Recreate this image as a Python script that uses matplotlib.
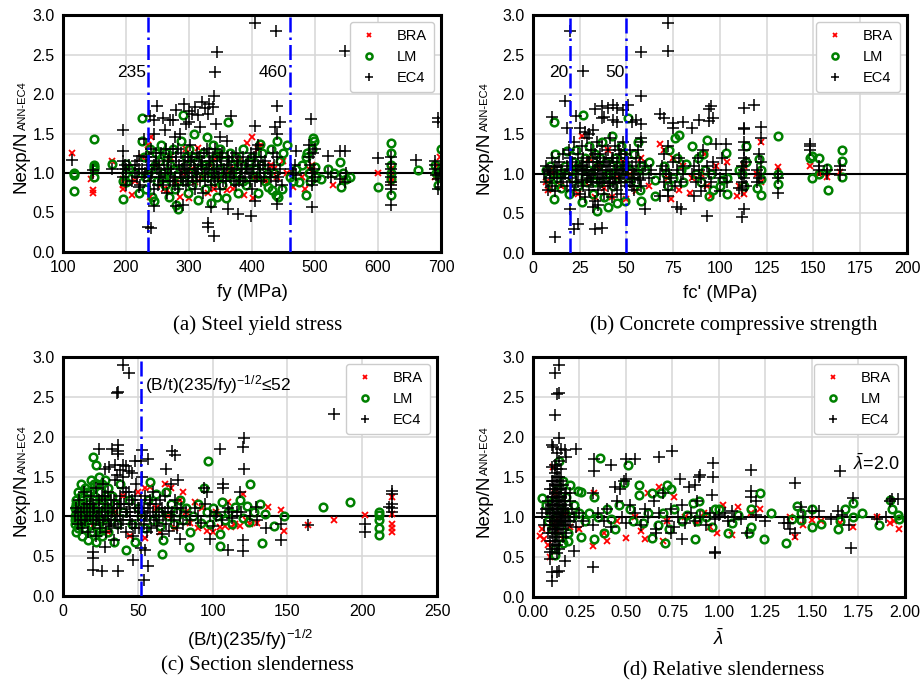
import numpy as np
import matplotlib
matplotlib.use("Agg")
import matplotlib.pyplot as plt

plt.rcParams["font.family"] = ["Liberation Sans", "DejaVu Sans"]
plt.rcParams["mathtext.fontset"] = "custom"
plt.rcParams["mathtext.rm"] = "Liberation Sans"
plt.rcParams["mathtext.it"] = "Liberation Sans:italic"

# ---- data: (x, Nexp/N ratio) ----
# (a) steel yield stress fy
bra_fy = [(115,1.25),(148,0.78),(148,0.75),(145,0.93),(178,1.15),(195,0.8),(195,0.85),(195,0.92),(210,0.72),(215,0.9),
          (225,1.2),(235,1.35),(240,1.45),(238,0.7),(250,1.1),(255,0.85),(260,0.8),(265,0.78),(270,1.2),(280,0.9),
          (285,0.7),(290,1.0),(295,1.3),(300,0.68),(305,1.05),(310,0.88),(315,1.32),(320,0.95),(330,0.75),(335,1.1),
          (340,0.8),(345,1.2),(350,0.92),(360,0.78),(365,1.05),(370,0.8),(380,1.15),(388,0.72),(392,1.38),(400,1.45),
          (402,0.68),(405,0.95),(410,1.3),(415,1.35),(420,0.9),(425,0.88),(430,1.1),(435,1.05),(440,0.95),(450,1.15),
          (455,1.0),(465,0.82),(480,0.95),(484,0.8),(490,1.05),(495,1.1),(528,0.85),(545,0.9),(600,1.0),(620,0.88),
          (620,0.95),(620,1.05),(690,0.95),(695,1.1),(698,1.2)]
lm_fy = [(117,1.0),(117,0.98),(117,0.77),(150,1.43),(150,1.1),(150,1.08),(150,1.05),(150,0.95),(178,1.12),(195,0.67),
         (195,0.9),(200,1.12),(200,1.0),(200,0.88),(205,1.05),(215,1.0),(220,0.75),(225,1.7),(225,1.4),(228,1.2),
         (230,0.95),(232,0.8),(238,1.3),(240,1.05),(242,0.7),(245,0.65),(248,1.25),(250,0.9),(252,1.15),(255,1.35),
         (258,1.0),(262,0.85),(265,1.2),(268,0.7),(270,1.1),(272,0.95),(275,1.3),(278,0.8),(280,0.6),(282,0.55),
         (285,1.05),(288,1.4),(290,1.74),(292,0.9),(295,1.2),(298,0.75),(300,1.3),(302,1.0),(305,0.85),(308,1.5),
         (312,1.15),(315,0.66),(318,1.05),(322,1.25),(325,0.8),(328,1.45),(330,0.95),(332,1.1),(335,0.62),(338,1.35),
         (340,0.9),(342,1.2),(345,0.7),(348,1.05),(350,1.3),(352,0.85),(355,1.15),(358,0.68),(362,1.64),(365,1.25),
         (368,1.0),(372,0.9),(375,1.2),(378,0.75),(382,1.1),(385,1.3),(390,0.85),(395,1.05),(400,1.2),(405,0.95),
         (410,0.75),(412,1.37),(415,1.1),(420,0.9),(425,0.82),(430,1.3),(432,0.78),(435,1.0),(438,0.72),(440,1.4),
         (442,0.7),(445,1.15),(448,0.8),(450,1.25),(455,1.35),(460,0.95),(465,0.9),(470,1.05),(475,0.88),(480,1.1),
         (485,0.72),(485,1.2),(488,1.25),(490,1.0),(492,0.9),(495,1.3),(497,1.44),(498,1.4),(500,1.08),(502,0.95),
         (510,0.92),(520,1.05),(530,1.0),(540,1.14),(542,0.82),(545,1.0),(550,0.92),(555,0.95),(600,0.82),(620,1.38),
         (620,1.25),(620,1.1),(620,1.0),(620,0.92),(620,0.72),(663,1.04),(690,1.1),(692,1.0),(695,0.85),(698,0.95),
         (700,1.3),(700,1.05),
         (235,1.0),(246,1.1),(257,0.95),(263,1.25),(274,1.05),(284,0.9),(296,1.1),(306,1.2),(316,0.95),(326,1.1),
         (336,1.0),(346,1.25),(356,0.95),(366,1.1),(376,1.0),(386,0.9),(396,1.15),(406,1.05),(416,1.25),(426,1.0)]
ec4_fy = [(405,2.9),(438,2.8),(345,2.53),(548,2.55),(342,2.28),(340,1.98),(440,1.85),(250,1.85),(292,1.87),(320,1.9),
          (332,1.87),(310,1.83),(280,1.8),(300,1.78),(325,1.82),(338,1.83),(305,1.75),(330,1.75),(315,1.73),(367,1.72),
          (258,1.7),(270,1.67),(275,1.67),(238,1.72),(245,1.67),(493,1.68),(695,1.7),(695,1.65),(195,1.55),(405,1.6),
          (437,1.58),(445,1.65),(440,1.5),(343,1.62),(295,1.62),(300,1.65),(318,1.58),(285,1.5),(245,1.5),(228,1.43),
          (262,1.55),(278,1.45),(350,1.45),(360,1.4),(235,0.32),(240,0.3),(330,0.37),(330,0.32),(340,0.2),(398,0.45),
          (378,0.48),(362,0.55),(335,0.57),(245,0.58),(440,0.61),(495,0.57),(620,0.6),(280,0.58),(290,0.6),(405,0.65),
          (115,1.17),(148,1.04),(148,1.0),(178,1.05),(195,1.28),(220,1.22),(520,1.22),(548,1.28),(540,1.28),(600,1.19),
          (660,1.16),(620,1.2),(620,1.12),(620,0.8),(620,0.85),(690,1.15),(690,1.1),(470,1.28),(490,1.35),(500,1.3),
          (195,1.15),(195,1.05),(195,0.95),(198,1.1),(200,0.85),(200,1.0),(215,1.1),(218,0.95),(220,0.82),(220,1.05),
          (462,1.05),(465,1.0),(470,0.98),(468,1.1),(490,1.2),(492,1.1),(495,1.0),(495,0.9),(498,1.05),(500,0.95),
          (497,1.25),(495,0.85),(520,1.0),(525,0.95),(540,0.92),(550,1.0),(548,0.88),(620,1.0),(620,1.05),(620,0.95),
          (620,0.88),(690,1.05),(692,0.98),(695,0.92),(698,1.0),(700,0.82),(695,0.8),
          (200,1.05),(205,1.1),(210,0.9),(215,1.0),(218,1.15),(222,0.85),(225,1.05),(228,0.95),(232,1.2),(235,1.1),
          (238,0.9),(240,1.3),(242,1.0),(245,0.8),(248,1.15),(250,1.05),(252,0.95),(255,1.25),(258,0.85),(260,1.1),
          (262,1.0),(265,0.75),(268,1.2),(270,0.9),(272,1.05),(275,1.3),(278,0.95),(280,1.15),(282,0.8),(285,1.0),
          (288,1.25),(290,0.9),(292,1.1),(295,0.85),(298,1.2),(300,1.0),(302,1.35),(305,0.95),(308,1.1),(310,0.8),
          (312,1.25),(315,1.05),(318,0.9),(320,1.15),(322,0.75),(325,1.0),(328,1.3),(330,0.95),(332,1.1),(335,0.85),
          (338,1.2),(340,1.05),(342,0.9),(345,1.15),(348,1.0),(350,0.8),(352,1.25),(355,1.05),(358,0.9),(360,1.1),
          (365,0.95),(368,1.2),(372,1.0),(375,0.85),(378,1.15),(382,1.05),(385,0.9),(390,1.1),(395,1.0),(398,1.25),
          (400,0.8),(402,1.05),(405,1.15),(408,0.95),(410,1.35),(412,1.0),(415,0.9),(418,1.1),(425,1.05),(430,0.95),
          (435,1.1),(440,1.2),(442,0.95),(445,1.05),(448,0.85),
          (230,1.0),(236,1.2),(244,1.1),(251,0.85),(256,1.0),(263,1.3),(267,1.05),(274,0.9),(279,1.2),(284,1.1),
          (287,0.95),(293,1.0),(297,1.05),(303,1.15),(307,0.9),(311,1.0),(316,1.2),(321,1.05),(326,0.9),(331,1.25),
          (336,1.0),(341,1.3),(346,0.95),(351,1.1),(356,1.0),(362,1.2),(366,1.05),(371,0.9),(376,1.1),(381,0.95),
          (386,1.2),(392,1.05),(397,0.9),(403,1.2),(407,1.3),(413,1.05),(420,1.15),(428,1.0),(433,1.25),(438,0.9),
          (233,1.05),(239,0.95),(247,1.25),(253,1.1),(259,0.9),(266,1.15),(271,1.0),(277,0.85),(283,1.3),(289,1.05),
          (294,1.15),(299,0.9),(304,1.2),(309,1.05),(313,0.95),(319,1.1),(324,1.25),(329,1.05),(334,1.15),(339,0.95),
          (344,1.05),(349,1.2),(354,0.9),(359,1.0),(364,1.15),(369,1.0),(374,1.25),(379,0.9),(384,1.05),(389,0.95),
          (394,1.15),(399,1.0),(404,0.9),(409,1.1),(414,1.2),(419,0.95)]

# (b) concrete compressive strength fc'
bra_fc = [(7,0.9),(8,0.8),(9,1.05),(12,1.0),(15,0.85),(20,1.1),(24,0.75),(26,1.47),(28,0.9),(30,1.2),(33,0.7),
          (35,1.1),(38,0.82),(40,1.3),(42,0.7),(45,0.95),(48,1.15),(50,0.68),(52,1.0),(55,0.78),(58,1.2),(62,0.85),
          (68,1.38),(70,1.3),(72,0.95),(74,0.68),(75,1.2),(78,0.8),(80,1.1),(84,0.76),(85,0.95),(90,1.0),(92,1.25),
          (93,0.85),(95,0.72),(98,1.1),(104,1.15),(109,0.72),(110,0.85),(113,0.75),(113,1.1),(120,1.0),(122,1.4),
          (122,0.9),(131,1.08),(148,1.1),(153,1.0),(157,0.96),(164,1.02)]
lm_fc = [(7,1.05),(8,0.95),(9,1.1),(10,0.85),(11,1.65),(11,0.68),(12,1.25),(13,0.95),(14,1.0),(15,0.82),(17,1.1),
         (18,1.28),(19,0.75),(21,0.95),(22,1.15),(23,1.3),(24,0.85),(25,1.05),(26,0.64),(27,1.74),(28,1.2),(29,0.9),
         (30,1.35),(31,1.0),(32,0.75),(33,1.25),(34,0.53),(35,1.1),(36,0.9),(37,1.4),(38,0.7),(39,1.15),(40,0.58),
         (41,1.0),(42,1.47),(43,0.85),(44,1.2),(45,0.63),(46,1.05),(47,1.35),(48,0.95),(49,0.66),(50,1.1),(51,1.7),
         (52,0.9),(54,1.25),(55,1.0),(56,1.4),(57,0.8),(58,0.66),(60,1.05),(62,1.15),(65,0.92),(65,0.72),(70,1.1),
         (71,1.0),(72,0.85),(73,1.3),(75,0.95),(76,1.45),(77,1.2),(78,1.49),(79,1.05),(80,0.9),(82,1.12),(85,1.35),
         (87,1.0),(88,1.2),(90,0.9),(91,1.25),(92,1.05),(93,1.42),(94,0.72),(95,1.0),(96,0.8),(100,0.85),(101,0.92),
         (103,1.26),(104,0.95),(104,0.75),(110,1.05),(112,1.0),(113,0.85),(114,1.35),(114,1.15),(120,0.82),(121,1.18),
         (122,1.05),(122,0.93),(122,0.73),(131,1.48),(131,0.87),(131,1.0),(148,1.2),(149,1.22),(149,0.95),(153,1.2),
         (153,1.0),(157,1.07),(158,0.8),(165,1.3),(165,1.16),(165,0.96),
         (15,1.0),(20,1.05),(24,1.1),(28,0.95),(30,1.05),(33,0.9),(36,1.2),(39,1.0),(42,0.92),(45,1.1),(48,1.25),
         (52,1.05),(55,0.9),(58,1.1)]
ec4_fc = [(72,2.9),(72,2.55),(58,2.53),(20,2.8),(27,2.29),(58,1.98),(17,1.92),(10,1.72),(18,1.58),(23,1.73),(33,1.82),
          (37,1.85),(40,1.83),(43,1.86),(45,1.83),(48,1.8),(51,1.87),(37,1.7),(38,1.72),(43,1.68),(45,1.65),(53,1.65),
          (55,1.68),(58,1.62),(68,1.75),(70,1.7),(75,1.64),(75,1.58),(80,1.65),(85,1.57),(89,1.68),(94,1.66),(94,1.82),
          (95,1.85),(96,1.7),(113,1.83),(113,1.58),(113,1.56),(118,1.86),(122,1.59),(122,1.45),(30,1.5),(32,1.55),
          (28,1.52),(25,1.57),(58,1.45),(98,1.37),(103,1.37),(12,0.2),(22,0.3),(24,0.36),(33,0.3),(37,0.31),(20,0.56),
          (35,0.6),(32,0.58),(60,0.56),(77,0.58),(79,0.55),(93,0.47),(112,0.45),(113,0.55),(131,0.76),(148,1.38),
          (148,1.35),(148,1.3),(153,1.1),(153,1.05),(157,1.05),(157,1.0),(164,1.1),(164,1.05),(164,0.98),(131,1.0),
          (131,0.95),(68,0.72),(72,0.72),(86,0.72),(90,0.78),(100,0.78),(110,0.82),
          (6,1.0),(7,0.9),(7,1.1),(8,0.8),(8,1.05),(9,0.95),(10,1.2),(10,0.85),(11,1.0),(12,1.1),(12,0.78),(13,0.95),
          (14,1.15),(15,1.05),(15,0.9),(16,1.25),(17,1.0),(18,0.85),(18,1.1),(19,1.3),(20,0.95),(20,1.2),(21,1.05),
          (22,0.8),(22,1.4),(23,1.0),(24,0.9),(24,1.25),(25,1.1),(25,0.75),(26,1.35),(26,1.0),(27,0.85),(27,1.2),
          (28,1.05),(28,0.7),(29,1.45),(29,0.95),(30,1.15),(30,0.8),(31,1.3),(31,1.0),(32,0.9),(32,1.2),(33,1.05),
          (33,0.65),(34,1.4),(34,0.95),(35,1.1),(35,0.8),(36,1.25),(36,1.0),(37,0.9),(37,1.35),(38,1.15),(38,0.75),
          (39,1.05),(39,0.95),(40,1.3),(40,0.85),(41,1.1),(41,1.45),(42,1.0),(42,0.7),(43,1.2),(43,0.9),(44,1.05),
          (44,1.35),(45,0.8),(45,1.15),(46,1.0),(46,0.95),(47,1.25),(47,0.75),(48,1.1),(48,1.4),(49,0.9),(49,1.05),
          (50,1.2),(50,0.85),(51,1.0),(52,1.3),(52,0.9),(53,1.1),(54,0.8),(55,1.05),(55,1.2),(56,0.95),(57,1.15),
          (58,0.85),(58,1.4),(59,1.0),(60,1.1),(62,0.95),(63,1.05),
          (21,1.15),(23,0.9),(26,1.1),(29,1.05),(31,0.9),(34,1.15),(36,0.88),(39,1.2),(41,0.95),(44,0.88),(47,1.05),
          (49,1.25),(53,0.95),(56,1.3),
          (9,1.02),(13,1.08),(16,0.95),(19,1.0),(21,0.9),(23,1.1),(24,1.05),(26,0.92),(27,1.05),(29,1.15),(30,0.98),
          (32,1.05),(33,1.25),(35,1.0),(36,1.15),(37,1.05),(38,0.95),(40,1.1),(41,0.88),(42,1.2),(44,0.95),(45,1.05),
          (46,1.3),(47,0.9),(48,1.0),(50,1.05),(51,1.15),(53,0.85),(54,1.0),(57,0.92),
          (68,1.0),(69,1.1),(70,0.9),(70,1.25),(71,1.05),(72,0.8),(72,1.35),(73,1.0),(74,0.95),(75,1.15),(76,0.85),
          (77,1.05),(78,1.2),(79,0.9),(80,1.0),(80,1.1),
          (85,1.0),(86,1.1),(87,0.9),(88,1.2),(89,1.05),(90,0.95),(91,1.3),(92,0.85),(93,1.1),(94,1.0),(95,0.9),
          (96,1.15),(98,1.05),(100,0.95),(101,1.2),(103,1.05),(104,0.9),
          (111,1.0),(112,1.1),(112,0.9),(113,1.2),(113,1.05),(113,0.95),(113,1.3),(114,0.85),(114,1.15),(113,1.4),
          (112,0.8),(120,1.05),(121,1.25),(121,0.95),(122,1.15),(122,1.0),(120,0.9)]

# (c) section slenderness (B/t)(235/fy)^-1/2
bra_bt = [(10,0.95),(15,1.1),(20,0.88),(25,1.2),(30,0.8),(35,1.05),(40,1.25),(45,0.75),(50,1.3),(55,1.35),(55,0.73),
          (58,1.37),(62,1.1),(65,0.8),(68,1.4),(70,1.0),(72,1.35),(75,0.85),(78,1.2),(80,1.3),(82,1.05),(85,0.92),
          (88,1.18),(90,0.85),(93,1.1),(96,0.82),(100,0.8),(102,1.05),(105,0.87),(108,0.88),(110,1.18),(112,0.86),
          (115,0.9),(118,0.88),(120,1.28),(122,0.95),(125,0.9),(130,0.92),(137,1.12),(146,1.08),(148,0.82),(164,0.89),
          (181,0.95),(202,1.02),(220,1.24),(220,0.9),(220,0.85),(220,0.8),(220,1.03)]
lm_bt = [(8,1.0),(8,1.1),(8,0.9),(9,1.2),(9,0.8),(9,1.05),(10,1.3),(10,0.95),(10,0.85),(11,1.15),(11,1.0),(12,1.25),
         (12,0.9),(12,1.4),(13,1.05),(13,0.75),(14,1.1),(14,0.95),(15,1.35),(15,0.85),(16,1.2),(16,1.0),(17,0.7),
         (17,1.15),(18,1.3),(18,0.9),(19,1.05),(19,1.45),(20,0.8),(20,1.75),(20,1.1),(21,0.95),(21,1.25),(22,1.64),
         (22,1.0),(22,0.68),(23,1.4),(23,0.85),(24,1.15),(24,1.5),(25,0.95),(25,1.3),(26,1.05),(26,0.75),(27,1.2),
         (28,0.9),(28,1.45),(29,1.1),(30,0.8),(30,1.35),(32,1.0),(33,1.25),(34,0.68),(35,1.15),(36,0.9),(38,1.4),
         (40,1.05),(42,0.58),(44,1.2),(46,0.9),(48,0.68),(50,1.1),(52,1.0),(55,0.85),(57,1.2),(58,1.43),(60,0.95),
         (62,1.28),(64,1.05),(65,0.88),(66,0.53),(67,0.7),(69,1.3),(70,1.0),(72,1.15),(74,0.9),(76,1.05),(78,1.2),
         (80,0.95),(82,1.1),(84,0.62),(85,0.8),(87,1.0),(90,1.15),(92,0.92),(94,1.35),(96,1.05),(97,1.7),(98,0.9),
         (100,1.1),(103,1.0),(105,0.78),(105,0.63),(106,1.18),(108,0.95),(110,1.05),(113,0.9),(115,1.12),(118,1.2),
         (120,0.98),(123,1.13),(124,0.93),(125,1.4),(128,1.05),(132,1.15),(133,0.66),(135,1.03),(141,0.88),(148,1.0),
         (174,1.12),(192,1.18),(211,1.05),(211,1.02),(211,0.95),(211,0.85),(211,0.77),
         (8,0.95),(9,1.15),(10,1.05),(11,0.9),(12,1.1),(13,1.2),(14,0.85),(15,1.0),(16,1.3),(17,0.95),(18,1.1),
         (19,0.8),(20,1.2),(21,1.4),(23,1.05),(24,0.8),(26,1.4),(27,0.95),(29,1.25),(31,1.1)]
ec4_bt = [(40,2.9),(44,2.8),(36,2.55),(37,2.56),(181,2.28),(121,1.98),(120,1.87),(121,1.6),(105,1.85),(24,1.85),
          (33,1.85),(37,1.9),(37,1.82),(37,1.78),(53,1.83),(57,1.72),(52,1.7),(48,1.7),(73,1.82),(75,1.77),(69,1.6),
          (28,1.6),(31,1.62),(35,1.65),(40,1.65),(42,1.63),(38,1.58),(44,1.57),(46,1.55),(36,1.52),(40,1.5),(53,1.5),
          (94,1.35),(96,1.3),(107,1.4),(107,1.35),(220,1.32),(220,1.28),(220,1.15),(220,1.1),(220,1.05),(218,1.12),
          (202,0.9),(202,0.8),(146,0.9),(146,0.7),(120,0.7),(120,0.57),(110,0.58),(98,0.72),(78,0.72),(20,0.55),
          (20,0.48),(20,0.33),(26,0.32),(37,0.32),(47,0.45),(52,0.6),(55,0.58),(57,0.38),(54,0.2),(28,0.62),(164,0.89),
          (136,0.85),(130,0.95),(125,1.0),(129,1.12),(119,1.05),(118,1.3),(111,1.05),(102,1.0),
          (8,1.0),(9,1.1),(10,0.9),(11,1.2),(12,1.05),(13,0.85),(14,1.3),(15,0.95),(16,1.15),(17,0.8),(18,1.0),
          (19,1.25),(20,0.9),(21,1.1),(22,1.35),(22,0.75),(23,1.0),(24,1.2),(25,0.85),(26,1.05),(27,1.4),(27,0.95),
          (28,1.15),(29,0.8),(30,1.3),(30,1.0),(31,0.9),(32,1.2),(33,1.05),(34,0.7),(35,1.45),(35,0.95),(36,1.1),
          (37,0.85),(38,1.25),(38,1.0),(39,0.9),(40,1.35),(41,1.15),(42,0.8),(43,1.05),(44,1.3),(45,0.95),(46,1.2),
          (47,0.75),(48,1.1),(49,1.4),(50,1.0),(51,0.85),(52,1.2),(53,1.05),(54,0.9),(55,1.25),(56,0.8),(57,1.1),
          (58,1.0),(59,0.85),(60,1.3),(61,0.95),(62,1.15),(63,0.88),(64,1.05),(65,1.2),(66,0.78),(67,1.0),(68,1.25),
          (69,0.9),(70,1.1),(71,0.82),(72,1.4),(73,1.05),(74,0.95),(75,1.2),(76,0.85),(77,1.45),(78,1.0),(79,1.1),
          (80,0.9),(82,1.05),(85,0.95),(88,1.1),(90,1.0),(92,0.92),(95,1.15),(98,1.0),(100,0.88),(103,1.05),
          (106,0.95),(110,1.1),(113,0.98),(116,1.05),
          (20,1.15),(24,0.95),(28,1.25),(32,0.88),(34,1.1),(39,1.15),(42,1.3),(45,1.05),(48,0.85),(51,1.1),(55,1.0),
          (58,1.2),(62,1.0),(66,1.1),
          (10,1.05),(12,0.95),(14,1.1),(16,1.0),(18,1.15),(20,1.05),(22,0.95),(24,1.1),(26,1.25),(28,1.0),(30,1.1),
          (32,0.95),(34,1.2),(36,1.0),(38,1.15),(40,0.95),(42,1.05),(44,1.15),(46,0.9),(48,1.25),(50,1.1),(52,0.95),
          (54,1.1),(56,1.0),(58,1.15),(60,1.05),(64,0.95),(68,1.05),(72,1.0),(76,1.1)]

# (d) relative slenderness lambda-bar
bra_lam = [(0.04,0.76),(0.05,0.85),(0.06,0.72),(0.08,0.65),(0.09,0.5),(0.10,0.9),(0.11,1.63),(0.12,1.3),(0.13,0.82),
           (0.14,0.95),(0.16,0.72),(0.18,1.05),(0.20,0.88),(0.25,0.85),(0.32,0.64),(0.33,1.3),(0.38,0.8),(0.40,0.7),
           (0.45,0.95),(0.50,0.74),(0.55,1.0),(0.58,0.82),(0.60,0.73),(0.62,1.3),(0.68,1.38),(0.70,0.7),(0.72,0.95),
           (0.76,1.25),(0.82,1.0),(0.88,0.92),(0.92,1.05),(0.95,0.88),(0.99,0.8),(1.02,1.15),(1.07,0.78),(1.10,1.12),
           (1.17,1.05),(1.22,1.1),(1.38,1.0),(1.41,0.75),(1.45,0.9),(1.50,0.96),(1.55,0.95),(1.65,0.92),(1.72,0.87),
           (1.85,1.0),(1.92,0.93),(1.94,0.95),(1.97,0.85)]
lm_lam = [(0.05,1.24),(0.07,1.15),(0.08,0.95),(0.09,1.05),(0.10,0.85),(0.11,1.2),(0.12,0.6),(0.12,0.53),(0.13,1.0),
          (0.13,1.35),(0.14,0.75),(0.14,1.7),(0.15,1.1),(0.15,0.9),(0.16,1.45),(0.16,0.68),(0.17,1.05),(0.18,1.25),
          (0.19,0.7),(0.19,0.8),(0.20,1.4),(0.21,1.0),(0.22,1.15),(0.24,1.32),(0.25,1.05),(0.26,1.31),(0.26,0.75),
          (0.28,0.95),(0.30,1.05),(0.33,0.72),(0.33,1.25),(0.35,1.0),(0.36,1.74),(0.38,0.8),(0.40,1.1),(0.42,0.98),
          (0.44,0.85),(0.46,1.15),(0.49,1.42),(0.51,1.65),(0.52,1.1),(0.54,0.95),(0.57,1.4),(0.57,1.28),(0.59,0.92),
          (0.62,1.05),(0.64,0.74),(0.64,1.3),(0.67,0.9),(0.69,1.3),(0.70,1.05),(0.71,0.68),(0.72,1.4),(0.73,0.85),
          (0.74,1.35),(0.76,1.1),(0.80,0.95),(0.83,1.02),(0.86,1.18),(0.87,0.73),(0.88,0.95),(0.89,1.2),(0.90,1.05),
          (0.93,1.0),(0.96,0.88),(0.98,1.1),(1.00,1.1),(1.05,0.8),(1.07,0.92),(1.10,1.03),(1.16,0.8),(1.17,0.88),
          (1.17,1.1),(1.22,1.3),(1.24,0.72),(1.28,1.05),(1.36,0.68),(1.39,0.98),(1.42,1.14),(1.44,1.05),(1.44,0.96),
          (1.50,1.1),(1.50,0.88),(1.55,0.91),(1.64,0.85),(1.65,0.95),(1.68,1.1),(1.72,1.18),(1.72,1.0),(1.77,1.05),
          (1.86,0.9),(1.92,1.21),(1.93,1.1),(1.96,1.03),(1.97,0.98)]
ec4_lam = [(0.14,2.9),(0.12,2.8),(0.13,2.54),(0.14,2.55),(0.12,2.28),(0.14,1.99),(0.10,1.9),(0.11,1.88),(0.13,1.8),
           (0.15,1.85),(0.23,1.85),(0.17,1.84),(0.10,1.62),(0.18,1.75),(0.33,1.72),(0.33,1.57),(0.42,1.65),(0.50,1.72),
           (0.55,1.73),(0.68,1.75),(0.75,1.83),(0.97,1.67),(0.97,1.5),(0.89,1.5),(0.90,1.52),(0.79,1.47),(0.84,1.37),
           (0.87,1.4),(1.17,1.59),(1.41,1.43),(1.65,1.57),(0.96,1.28),(1.17,1.33),(1.17,1.25),(1.20,1.2),(1.72,1.24),
           (1.93,1.22),(1.96,1.22),(1.92,1.2),(0.50,1.47),(0.49,1.45),(0.44,1.38),(0.47,1.35),(0.09,0.56),(0.09,0.48),
           (0.10,0.31),(0.13,0.31),(0.14,0.32),(0.10,0.2),(0.17,0.45),(0.22,0.58),(0.32,0.37),(0.98,0.56),(0.98,0.55),
           (1.71,0.61),(1.41,0.8),(0.80,0.72),(0.74,0.8),(0.66,0.8),(1.15,0.8),(1.37,0.92),(1.38,0.85),(1.44,1.12),
           (1.54,1.07),(1.64,1.07),(1.66,1.02),(1.85,0.98),(1.03,1.05),(1.07,1.08),
           (0.05,1.05),(0.06,0.9),(0.07,1.1),(0.08,0.8),(0.08,1.2),(0.09,1.0),(0.09,0.7),(0.09,1.35),(0.10,0.95),
           (0.10,1.15),(0.10,0.6),(0.11,1.05),(0.11,1.45),(0.11,0.85),(0.11,1.25),(0.12,0.75),(0.12,1.0),(0.12,1.55),
           (0.12,1.1),(0.12,0.9),(0.13,1.3),(0.13,0.65),(0.13,1.05),(0.13,1.4),(0.13,0.8),(0.13,1.2),(0.14,0.95),
           (0.14,1.5),(0.14,1.1),(0.14,0.7),(0.14,1.35),(0.15,1.0),(0.15,0.85),(0.15,1.6),(0.15,1.25),(0.16,1.05),
           (0.16,0.75),(0.16,1.4),(0.17,0.95),(0.17,1.15),(0.18,1.3),(0.18,0.8),(0.19,1.05),(0.20,0.95),(0.20,1.2),
           (0.21,1.1),(0.22,1.0),(0.23,0.88),(0.25,1.05),(0.27,0.95),
           (0.08,1.1),(0.09,0.9),(0.10,1.25),(0.10,1.05),(0.11,0.95),(0.11,0.7),(0.12,1.2),(0.12,1.4),(0.12,0.85),
           (0.13,1.1),(0.13,0.95),(0.13,1.6),(0.14,1.0),(0.14,1.25),(0.14,0.85),(0.15,1.15),(0.15,0.95),(0.15,1.45),
           (0.16,1.2),(0.16,0.9),(0.17,1.3),(0.17,1.0),(0.18,1.1),(0.19,0.9),(0.20,1.3),
           (0.09,1.1),(0.10,0.8),(0.11,1.15),(0.11,1.35),(0.12,1.3),(0.12,0.65),(0.13,0.9),(0.13,1.5),(0.14,1.2),
           (0.14,0.6),(0.15,1.05),(0.15,1.35),(0.16,0.95),(0.16,1.1),(0.17,1.2),(0.18,0.95),(0.10,1.45),(0.12,1.65),
           (0.14,1.7),(0.13,0.55),
           (0.32,1.3),(0.32,0.9),(0.35,1.05),(0.38,0.95),(0.40,1.1),(0.42,0.88),(0.45,1.2),(0.48,1.0),(0.50,0.92),
           (0.52,1.15),(0.55,1.05),(0.58,0.9),(0.60,1.1),(0.62,1.0),(0.65,1.2),(0.66,0.85),(0.68,1.05),(0.70,1.3),
           (0.72,0.95),(0.74,1.1),(0.76,0.88),(0.78,1.0),(0.80,1.15),(0.82,0.92),(0.85,1.05),(0.87,0.95),(0.88,1.2),
           (0.90,1.0),(0.93,0.9),(0.95,1.05),(0.98,0.97),(1.00,1.02),(1.05,0.95),(1.08,1.0),(1.12,0.97),(1.20,1.02),
           (1.25,0.95),(1.35,0.92),(1.45,1.0),(1.50,1.08),(1.60,0.97),(1.70,0.9),(1.90,1.0)]

panels = [
    dict(rect=[0.0684, 0.6305, 0.4104, 0.3475], data=(bra_fy, lm_fy, ec4_fy), xlim=(100, 700),
         xticks=[100, 200, 300, 400, 500, 600, 700], xfmt="{:.0f}", xlabel="fy (MPa)", vlines=[235, 460],
         caption="(a) Steel yield stress", cap_xy=(0.280, 0.523), ylab_x=-0.098),
    dict(rect=[0.5787, 0.6290, 0.4061, 0.3490], data=(bra_fc, lm_fc, ec4_fc), xlim=(0, 200),
         xticks=[0, 25, 50, 75, 100, 125, 150, 175, 200], xfmt="{:.0f}", xlabel="fc' (MPa)", vlines=[20, 50],
         caption="(b) Concrete compressive strength", cap_xy=(0.797, 0.523), ylab_x=-0.12),
    dict(rect=[0.0684, 0.1261, 0.4061, 0.3504], data=(bra_bt, lm_bt, ec4_bt), xlim=(0, 250),
         xticks=[0, 50, 100, 150, 200, 250], xfmt="{:.0f}", xlabel=r"(B/t)(235/fy)$^{-1/2}$", vlines=[52],
         caption="(c) Section slenderness", cap_xy=(0.279, 0.024), ylab_x=-0.10),
    dict(rect=[0.5787, 0.1246, 0.4039, 0.3519], data=(bra_lam, lm_lam, ec4_lam), xlim=(0, 2),
         xticks=[0, 0.25, 0.5, 0.75, 1.0, 1.25, 1.5, 1.75, 2.0], xfmt="{:.2f}", xlabel=r"$\bar{\lambda}$", vlines=[],
         caption="(d) Relative slenderness", cap_xy=(0.786, 0.017), ylab_x=-0.12),
]

fig = plt.figure(figsize=(9.21, 6.82), dpi=100)

for p in panels:
    ax = fig.add_axes(p["rect"])
    ax.set_xlim(*p["xlim"])
    ax.set_ylim(0, 3)
    ax.set_xticks(p["xticks"])
    ax.set_xticklabels([p["xfmt"].format(t) for t in p["xticks"]])
    ax.set_yticks([0, 0.5, 1.0, 1.5, 2.0, 2.5, 3.0])
    ax.set_yticklabels(["0.0", "0.5", "1.0", "1.5", "2.0", "2.5", "3.0"])
    ax.tick_params(length=0, labelsize=11.5, pad=6)
    ax.grid(True, color="#d6d6d6", lw=1.1)
    ax.set_axisbelow(True)
    for s in ax.spines.values():
        s.set_linewidth(2.2)
        s.set_color("black")

    ax.axhline(1.0, color="black", lw=1.5, zorder=1.5)
    for v in p["vlines"]:
        ax.axvline(v, color="#0000ff", lw=1.8, ls=(0, (6, 2, 1, 2)), zorder=4)

    bra, lm, ec4 = (np.array(d) for d in p["data"])
    ax.plot(bra[:, 0], bra[:, 1], ls="none", marker="x", ms=4, mew=1.3, color="red", label="BRA", zorder=2)
    ax.plot(lm[:, 0], lm[:, 1], ls="none", marker="o", ms=5.5, mew=1.8, mfc="none", mec="green",
            label="LM", zorder=2.5)
    ax.plot(ec4[:, 0], ec4[:, 1], ls="none", marker="+", ms=8, mew=1.1, color="black", label="EC4", zorder=3)

    leg = ax.legend(loc="upper right", fontsize=10.5, handlelength=1.8, handletextpad=1.0, borderpad=0.45,
                    labelspacing=0.5, markerscale=0.8, fancybox=True, framealpha=1, edgecolor="#cccccc")
    leg.set_zorder(5)

    ax.set_xlabel(p["xlabel"], fontsize=13.5, labelpad=6)

    # y label: "Nexp/N" followed by small-cap "ANN-EC4"
    t1 = ax.text(p["ylab_x"], 0.25, "Nexp/N", transform=ax.transAxes, rotation=90,
                 rotation_mode="anchor", ha="left", va="baseline", fontsize=13.5)
    ax.annotate("ANN-EC4", xy=(p["ylab_x"], 1.0), xycoords=(ax.transAxes, t1), rotation=90,
                rotation_mode="anchor", ha="left", va="baseline", fontsize=8)

    fig.text(p["cap_xy"][0], p["cap_xy"][1], p["caption"], ha="center", va="center",
             fontsize=15, family="Liberation Serif")

    if p["xlabel"] == "fy (MPa)":
        ax.text(232, 2.27, "235", ha="right", va="center", fontsize=12.5)
        ax.text(457, 2.27, "460", ha="right", va="center", fontsize=12.5)
    elif p["xlabel"] == "fc' (MPa)":
        ax.text(19, 2.27, "20", ha="right", va="center", fontsize=12.5)
        ax.text(49, 2.27, "50", ha="right", va="center", fontsize=12.5)
    elif p["vlines"] == [52]:
        ax.text(55, 2.65, r"(B/t)(235/fy)$^{-1/2}$≤52", ha="left", va="center", fontsize=12.5)
    else:
        ax.text(1.97, 1.67, r"$\bar{\lambda}$=2.0", ha="right", va="center", fontsize=13)

fig.savefig("out.png", dpi=100)
